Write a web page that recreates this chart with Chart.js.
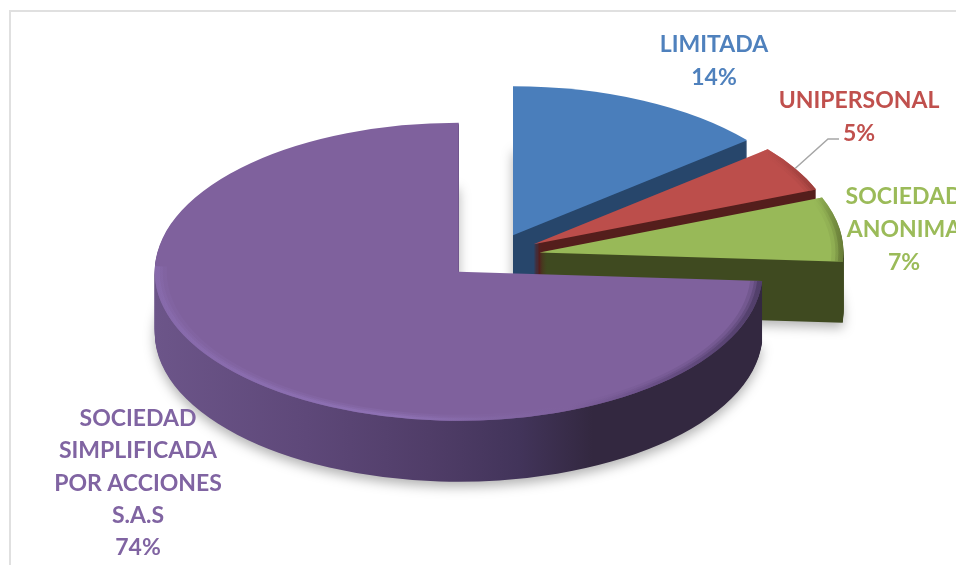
<!DOCTYPE html>
<html>
<head>
<meta charset="utf-8">
<script src="https://cdn.jsdelivr.net/npm/chart.js@4"></script>
<style>
    html, body { margin: 0; padding: 0; background: #fff; overflow: hidden; }
    canvas { display: block; }
</style>
</head>
<body>
<canvas id="myChart" width="956" height="565"></canvas>
<script>
// Chart data
const categories = [
    ["LIMITADA"],
    ["UNIPERSONAL"],
    ["SOCIEDAD", "ANONIMA"],
    ["SOCIEDAD", "SIMPLIFICADA", "POR ACCIONES", "S.A.S"]
];
const shares = [14, 5, 7, 74];

// Look of the slices
const faceColors = ["#4a7ebb", "#bc4e4b", "#98b958", "#7f619d"];
const textColors = ["#4f81bd", "#c0504d", "#9bbb59", "#8064a2"];
const wallStops = [
    [[0, "#27466b"], [1, "#27466b"]],
    [[0, "#541e1c"], [1, "#541e1c"]],
    [[0, "#3f4a20"], [1, "#3f4a20"]],
    [[0, "#6c5589"], [0.25, "#5e4879"], [0.45, "#503d68"], [0.6, "#42345a"], [0.72, "#332840"], [1, "#332840"]]
];
// rim highlight: colours along x and the arc part it covers (fractions of the slice)
const rimStops = [
    null,
    [[0, "#bc4e4b"], [0.88, "#bc4e4b"], [0.965, "#8f3836"], [1, "#8f3836"]],
    [[0, "#98b958"], [0.95, "#98b958"], [1, "#55652b"]],
    [[0, "#8a6db0"], [0.4, "#9478bd"], [0.55, "#8468a6"], [0.68, "#7f619d"], [0.82, "#62497f"], [1, "#3f3155"]]
];
const rimSpan = [null, [0, 1], [0, 1], [0, 0.67]];

// 3D view
const radius = 304;
const tilt = 0.49;
const depth = 61;
const explode = 47;

// Label text anchors: center x and the baseline of the first line
const labelAnchors = [
    { x: 714, y: 52, lineHeight: 33 },
    { x: 859, y: 108, lineHeight: 33 },
    { x: 904, y: 204, lineHeight: 33 },
    { x: 138, y: 426, lineHeight: 32.3 }
];
const leaderElbow = [{ x: 828, y: 139 }, { x: 839, y: 139 }];

function makeGradient(ctx, arc, stops) {
    const g = ctx.createLinearGradient(arc.x - radius, 0, arc.x + radius, 0);
    stops.forEach(s => g.addColorStop(s[0], s[1]));
    return g;
}

// Same arc element, other fill
function paintArc(ctx, arc, fill) {
    const copy = Object.create(arc);
    copy.options = {
        backgroundColor: fill, borderColor: fill, borderWidth: 0,
        borderRadius: 0, offset: 0, spacing: 0, circular: true, borderAlign: "center"
    };
    copy.draw(ctx);
}

function viewTransform(ctx, arc, drop) {
    const mid = (arc.startAngle + arc.endAngle) / 2;
    ctx.translate(0, arc.y + drop);
    ctx.scale(1, tilt);
    ctx.translate(0, -arc.y);
    ctx.translate(Math.cos(mid) * explode, Math.sin(mid) * explode);
}

function drawRim(ctx, arc, i) {
    const sweep = arc.endAngle - arc.startAngle;
    const a = arc.startAngle + sweep * rimSpan[i][0];
    const b = arc.startAngle + sweep * rimSpan[i][1];
    ctx.strokeStyle = makeGradient(ctx, arc, rimStops[i]);
    [[12, 0.2], [8, 0.3], [5, 0.5]].forEach(pass => {
        ctx.globalAlpha = pass[1];
        ctx.lineWidth = pass[0];
        ctx.beginPath();
        ctx.arc(arc.x, arc.y, radius - pass[0] / 2, a, b);
        ctx.stroke();
    });
    ctx.globalAlpha = 1;
}

const pie3d = {
    id: "pie3d",
    beforeDraw(chart) {
        const ctx = chart.ctx;
        ctx.save();
        ctx.fillStyle = "#e0e0e0";
        ctx.fillRect(9, 10, 947, 2);
        ctx.fillRect(9, 10, 2, 555);
        ctx.restore();
    },
    beforeDatasetDraw(chart, args) {
        const ctx = chart.ctx;
        const arcs = args.meta.data;

        arcs.forEach((arc, i) => {
            // soft shadow under the slice
            ctx.save();
            ctx.shadowColor = "rgba(0,0,0,0.3)";
            ctx.shadowBlur = 12;
            ctx.shadowOffsetY = 5;
            viewTransform(ctx, arc, depth);
            paintArc(ctx, arc, makeGradient(ctx, arc, wallStops[i]));
            ctx.restore();

            // extrusion
            for (let d = depth - 1; d > 0; d--) {
                ctx.save();
                viewTransform(ctx, arc, d);
                paintArc(ctx, arc, makeGradient(ctx, arc, wallStops[i]));
                ctx.restore();
            }

            // top face
            ctx.save();
            viewTransform(ctx, arc, 0);
            paintArc(ctx, arc, faceColors[i]);
            if (rimStops[i]) drawRim(ctx, arc, i);
            ctx.restore();
        });
        return false;
    },
    afterDraw(chart) {
        const ctx = chart.ctx;
        const arcs = chart.getDatasetMeta(0).data;

        // leader line of the small slice
        const red = arcs[1];
        const mid = (red.startAngle + red.endAngle) / 2;
        const rim = radius + explode;
        ctx.save();
        ctx.strokeStyle = "#a6a6a6";
        ctx.lineWidth = 1.5;
        ctx.beginPath();
        ctx.moveTo(red.x + Math.cos(mid) * rim, red.y + Math.sin(mid) * rim * tilt);
        leaderElbow.forEach(p => ctx.lineTo(p.x, p.y));
        ctx.stroke();
        ctx.restore();

        ctx.save();
        ctx.font = "bold 23px Lato";
        ctx.textAlign = "center";
        ctx.textBaseline = "alphabetic";
        categories.forEach((lines, i) => {
            const a = labelAnchors[i];
            ctx.fillStyle = textColors[i];
            lines.concat(shares[i] + "%").forEach((line, n) => {
                ctx.fillText(line, a.x, a.y + n * a.lineHeight);
            });
        });
        ctx.restore();
    }
};

const myChart = new Chart(document.getElementById("myChart"), {
    type: "pie",
    data: {
        labels: categories,
        datasets: [{
            data: shares,
            backgroundColor: faceColors,
            borderWidth: 0,
            radius: radius
        }]
    },
    options: {
        responsive: false,
        animation: false,
        layout: { padding: { left: 30, bottom: 53 } },
        plugins: { legend: { display: false }, tooltip: { enabled: false } }
    },
    plugins: [pie3d]
});
</script>
</body>
</html>
